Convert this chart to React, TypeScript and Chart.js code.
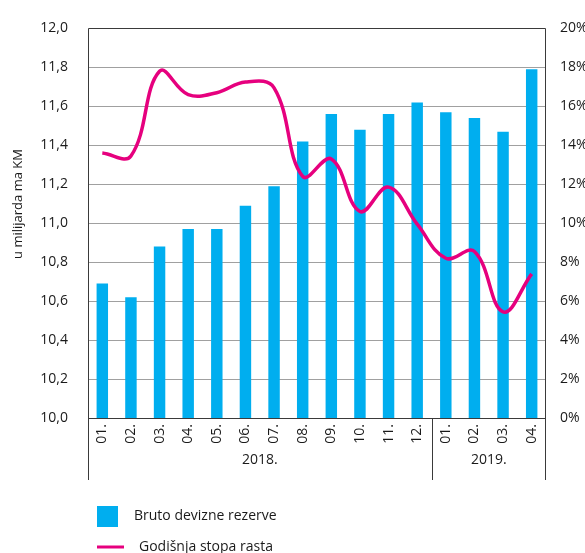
import React, { useEffect, useRef } from "react";
import { Chart, registerables } from "chart.js";

Chart.register(...registerables);

const months = ["01.", "02.", "03.", "04.", "05.", "06.", "07.", "08.", "09.", "10.", "11.", "12.", "01.", "02.", "03.", "04."];
const years = ["2018.", "2019."];
const yearSpans = [12, 4];
const reserves = [10.69, 10.62, 10.88, 10.97, 10.97, 11.09, 11.19, 11.42, 11.56, 11.48, 11.56, 11.62, 11.57, 11.54, 11.47, 11.79];
const growth = [13.6, 13.45, 17.8, 16.6, 16.7, 17.25, 16.95, 12.4, 13.3, 10.6, 11.85, 9.95, 8.2, 8.55, 5.45, 7.4];
const seriesLabels = ["Bruto devizne rezerve", "Godišnja stopa rasta"];
const axisTitle = "u milijarda ma KM";
const leftMin = 10;
const leftMax = 12;
const leftStep = 0.2;
const rightMin = 0;
const rightMax = 20;
const rightStep = 2;

const FONT = "'Open Sans', 'Noto Sans', sans-serif";
const TEXT = "#1a1a1a";
const BAR = "#00aeef";
const LINE = "#e6007e";
const FRAME = "#3a3a3a";
const GRID = "#a0a0a0";

const framePlugin = {
  id: "framePlugin",
  afterDraw(chart: any) {
    const { ctx, chartArea: ca, scales } = chart;
    const x = scales.x;
    const ext = 480;
    ctx.save();
    ctx.strokeStyle = FRAME;
    ctx.lineWidth = 1;
    const L = Math.round(ca.left) + 0.5;
    const R = Math.round(ca.right) - 0.5;
    const T = Math.round(ca.top) + 0.5;
    const B = Math.round(ca.bottom) + 0.5;
    ctx.beginPath();
    ctx.moveTo(L, T);
    ctx.lineTo(R, T);
    ctx.moveTo(L, B);
    ctx.lineTo(R, B);
    ctx.moveTo(L, T);
    ctx.lineTo(L, ext);
    ctx.moveTo(R, T);
    ctx.lineTo(R, ext);
    let start = 0;
    const bounds: number[] = [ca.left];
    for (let g = 0; g < yearSpans.length; g++) {
      const end = start + yearSpans[g] - 1;
      if (g < yearSpans.length - 1) {
        const sx = (x.getPixelForValue(end) + x.getPixelForValue(end + 1)) / 2;
        bounds.push(sx);
        const px = Math.round(sx) + 0.5;
        ctx.moveTo(px, B);
        ctx.lineTo(px, ext);
      }
      start = end + 1;
    }
    bounds.push(ca.right);
    ctx.stroke();

    ctx.fillStyle = TEXT;
    ctx.font = `14px ${FONT}`;
    ctx.textAlign = "center";
    ctx.textBaseline = "middle";
    for (let g = 0; g < years.length; g++) {
      ctx.fillText(years[g], (bounds[g] + bounds[g + 1]) / 2, 460);
    }

    ctx.save();
    ctx.translate(18.5, 204);
    ctx.rotate(-Math.PI / 2);
    ctx.font = `13px ${FONT}`;
    ctx.fillText(axisTitle, 0, 0);
    ctx.restore();

    const ds = chart.data.datasets;
    ctx.fillStyle = ds[0].backgroundColor;
    ctx.fillRect(97, 506, 21, 21);
    ctx.strokeStyle = ds[1].borderColor;
    ctx.lineWidth = 3;
    ctx.beginPath();
    ctx.moveTo(97, 547);
    ctx.lineTo(124, 547);
    ctx.stroke();
    ctx.fillStyle = TEXT;
    ctx.font = `14px ${FONT}`;
    ctx.textAlign = "left";
    ctx.fillText(ds[0].label, 134, 516);
    ctx.fillText(ds[1].label, 139, 547);
    ctx.restore();
  },
};

export default function App() {
  const ref = useRef<HTMLCanvasElement>(null);
  useEffect(() => {
    if (!ref.current) return;
    const chart = new Chart(ref.current, {
      type: "bar",
      data: {
        labels: months,
        datasets: [
          {
            type: "bar",
            label: seriesLabels[0],
            data: reserves,
            backgroundColor: BAR,
            yAxisID: "y",
            barPercentage: 0.4,
            categoryPercentage: 1,
            order: 1,
          } as any,
          {
            type: "line",
            label: seriesLabels[1],
            data: growth,
            borderColor: LINE,
            backgroundColor: LINE,
            borderWidth: 3.5,
            pointRadius: 0,
            tension: 0.4,
            yAxisID: "y1",
            order: 0,
          } as any,
        ],
      },
      options: {
        responsive: false,
        animation: false,
        layout: { padding: { top: 17, left: 0, right: 0, bottom: 0 } },
        plugins: { legend: { display: false }, tooltip: { enabled: false } },
        scales: {
          x: {
            grid: { display: false, drawTicks: false },
            border: { display: false },
            ticks: {
              minRotation: 90,
              maxRotation: 90,
              autoSkip: false,
              padding: 6,
              color: TEXT,
              font: { family: FONT, size: 14 },
            },
            afterFit: (s: any) => {
              s.height = 152;
            },
          },
          y: {
            position: "left",
            min: leftMin,
            max: leftMax,
            ticks: {
              stepSize: leftStep,
              padding: 20,
              color: TEXT,
              font: { family: FONT, size: 14 },
              callback: (v: any) => Number(v).toFixed(1).replace(".", ","),
            },
            grid: {
              drawTicks: false,
              lineWidth: 1,
              color: (c: any) => {
                const v = c.tick ? c.tick.value : 0;
                return Math.abs(v - leftMin) < 1e-6 || Math.abs(v - leftMax) < 1e-6 ? "rgba(0,0,0,0)" : GRID;
              },
            },
            border: { display: false },
            afterFit: (s: any) => {
              s.width = 88;
            },
          },
          y1: {
            position: "right",
            min: rightMin,
            max: rightMax,
            ticks: {
              stepSize: rightStep,
              padding: 14,
              color: TEXT,
              font: { family: FONT, size: 14 },
              callback: (v: any) => `${v}%`,
            },
            grid: { display: false, drawTicks: false },
            border: { display: false },
            afterFit: (s: any) => {
              s.width = 54;
            },
          },
        },
      } as any,
      plugins: [framePlugin],
    });
    return () => chart.destroy();
  }, []);
  return (
    <div style={{ position: "fixed", left: 0, top: 0, width: 585, height: 553, overflow: "hidden", background: "#fff" }}>
      <canvas ref={ref} width={600} height={570} style={{ display: "block" }} />
    </div>
  );
}
